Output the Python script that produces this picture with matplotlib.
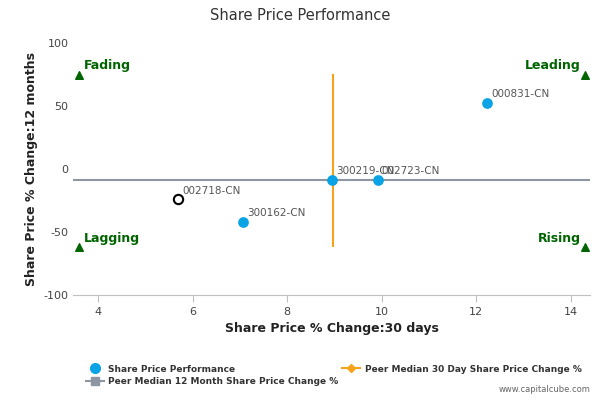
import matplotlib
matplotlib.use("Agg")
import matplotlib.pyplot as plt
from matplotlib.lines import Line2D
plt.rcParams["axes.unicode_minus"] = False

names = ["000831-CN", "300219-CN", "002723-CN", "300162-CN"]
x30 = [12.22, 8.94, 9.91, 7.07]
y12 = [52.4, -8.7, -8.7, -42.0]
focus_name = "002718-CN"
focus_x, focus_y = 5.69, -24.0
median_x = 8.96
median_y = -9.0
vline_range = [-61, 75]
quad_labels = ["Fading", "Leading", "Lagging", "Rising"]
quad_x = [3.6, 14.3, 3.6, 14.3]
quad_y = [75, 75, -62, -62]

fig = plt.figure(figsize=(6, 4), dpi=100)
ax = fig.add_axes([0.122, 0.2625, 0.861, 0.63])
ax.set_xlim(3.47, 14.4)
ax.set_ylim(-100, 100)
for s in ["top", "right", "left"]:
    ax.spines[s].set_visible(False)
ax.spines["bottom"].set_color("#c0c0c0")
ax.tick_params(axis="both", colors="#444444", labelsize=8, length=0)
ax.tick_params(axis="x", length=5, color="#c0c0c0")
ax.set_xticks([4, 6, 8, 10, 12, 14])
ax.set_yticks([-100, -50, 0, 50, 100])

ax.axhline(median_y, color="#8f96a3", lw=1.5, zorder=2)
ax.plot([median_x, median_x], vline_range, color="#f7a21b", lw=1.5, zorder=2)
ax.scatter(x30, y12, s=45, color="#0aa3e6", zorder=3)
for n, xx, yy in zip(names, x30, y12):
    ax.annotate(n, (xx, yy), xytext=(3, 4), textcoords="offset points", fontsize=7.5, color="#555555")
ax.scatter([focus_x], [focus_y], s=45, facecolor="white", edgecolor="black", lw=1.5, zorder=4)
ax.annotate(focus_name, (focus_x, focus_y), xytext=(3, 4), textcoords="offset points", fontsize=7.5, color="#555555")

ax.scatter(quad_x, quad_y, marker="^", s=30, color="#006400", zorder=3, clip_on=False)
for lab, xx, yy in zip(quad_labels, quad_x, quad_y):
    ha = "left" if xx < 9 else "right"
    off = 3 if ha == "left" else -3
    ax.annotate(lab, (xx, yy), xytext=(off, 4), textcoords="offset points", ha=ha,
                fontsize=9, fontweight="bold", color="#006400")

ax.set_xlabel("Share Price % Change:30 days", fontsize=9, fontweight="bold", color="#222222")
ax.set_ylabel("Share Price % Change:12 months", fontsize=9, fontweight="bold", color="#222222")
fig.text(0.5, 0.96, "Share Price Performance", ha="center", va="center", fontsize=10.5, color="#333333")

handles = [
    Line2D([], [], marker="o", ls="none", color="#0aa3e6", markersize=7),
    Line2D([], [], marker="s", color="#8f96a3", markersize=6, lw=1.5),
    Line2D([], [], marker="D", color="#f7a21b", markersize=4, lw=1.5),
]
labels = ["Share Price Performance", "Peer Median 12 Month Share Price Change %",
          "Peer Median 30 Day Share Price Change %"]
fig.legend(handles, labels, loc="upper left", bbox_to_anchor=(0.135, 0.1), ncol=2,
           frameon=False, prop={"size": 6.5, "weight": "bold"}, labelcolor="#333333",
           handlelength=2, columnspacing=0.4, handletextpad=0.5, borderpad=0, labelspacing=0.4)
fig.text(0.985, 0.02, "www.capitalcube.com", ha="right", fontsize=6, color="#666666")
fig.savefig("out.png", dpi=100)
